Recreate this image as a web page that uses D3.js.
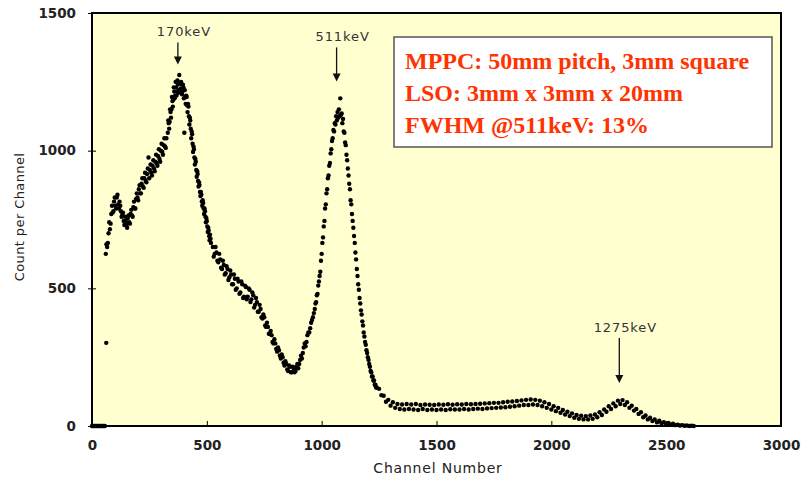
<!DOCTYPE html>
<html>
<head>
<meta charset="utf-8">
<script src="https://cdn.jsdelivr.net/npm/d3@7"></script>
<style>
body { margin: 0; background: #fff; }
</style>
</head>
<body>
<svg id="chart" width="801" height="480"></svg>
<script>
// spectrum, in pieces with their own channel step
var seg0Start = 0, seg0Step = 4,
seg0Counts = [0, 0, 0, 0, 0, 0, 0, 0, 0, 0, 0, 0, 0, 0, 0];

var segAStart = 60, segAStep = 6,
segACounts = [625, 650, 700, 715, 770, 775, 815, 800, 830, 805, 815, 780, 770, 745, 760,
    730, 755, 740, 770, 765, 795, 790, 825, 830, 860, 845, 880, 870, 900, 890,
    915, 975, 930, 920, 945, 935, 960, 955, 980, 970, 1000, 995, 1020, 1015, 1045];

var segA2Start = 63, segA2Step = 6,
segA2Counts = [660, 665, 740, 735, 800, 780, 830, 790, 840, 790, 800, 760, 775, 730, 745,
    720, 765, 735, 785, 760, 815, 790, 845, 820, 875, 845, 900, 865, 920, 885, 935,
    900, 950, 910, 965, 925, 985, 945, 1005, 960, 1025, 985, 1045, 1010];

var segBStart = 330, segBStep = 4,
segBCounts = [1065, 1100, 1105, 1140, 1150, 1180, 1185, 1215, 1200, 1230, 1215, 1240,
    1220, 1245, 1225, 1240, 1215, 1230, 1065, 1195, 1200, 1165, 1170, 1125, 1120, 1080,
    1070, 1025, 1015, 975, 970, 930, 925, 890, 885, 850, 850, 815, 820, 790, 790, 760,
    755, 725, 720, 690, 695, 665];

var segB2Start = 332, segB2Step = 4,
segB2Counts = [1110, 1080, 1150, 1120, 1195, 1160, 1230, 1190, 1250, 1200, 1255, 1210,
    1275, 1215, 1250, 1205, 1240, 1190, 1220, 1170, 1195, 1140, 1160, 1095, 1110, 1045,
    1060, 995, 1005, 950, 960, 905, 915, 870, 875, 835, 840, 800, 810, 770, 780, 740,
    745, 705, 710, 675, 680];

var segCStart = 526, segCStep = 8,
segCCounts = [650, 625, 630, 595, 605, 570, 585, 555, 570, 540, 550, 515, 535, 500, 525,
    485, 515, 470, 505, 470, 495, 460, 475, 440, 450, 415, 425, 390, 395, 360, 360,
    335, 330, 300, 300, 270, 275, 245, 250, 220, 225, 200, 215, 195, 210, 200, 225,
    225, 255, 265, 300, 305, 340, 355, 385, 410];

var segC2Start = 530, segC2Step = 8,
segC2Counts = [615, 650, 600, 625, 575, 600, 550, 580, 530, 565, 515, 550, 495, 535, 480,
    525, 465, 510, 460, 500, 450, 485, 430, 465, 415, 440, 395, 405, 365, 375, 335,
    345, 305, 315, 280, 285, 255, 260, 230, 235, 205, 220, 195, 215, 195, 215, 210,
    240, 245, 285, 290, 330, 340, 375, 395];

var segDStart = 970, segDStep = 3,
segDCounts = [425, 445, 450, 475, 480, 510, 525, 545, 560, 600, 625, 665, 685, 725, 745,
    790, 805, 845, 860, 900, 910, 945, 955, 990, 1005, 1035, 1045, 1075, 1070, 1100,
    1095, 1125, 1110, 1140, 1120, 1150, 1125, 1190, 1130, 1135, 1100, 1115, 1070, 1065,
    1030, 1020, 985, 965, 935, 910, 880, 860, 820, 805, 770, 745, 720, 690, 665, 630,
    605, 570, 545, 515, 495, 465, 445, 420, 405, 380, 365, 340, 325, 305, 295, 275,
    265, 250, 240, 225, 215, 200, 195, 180, 180, 165, 165, 150, 150, 140, 140];

var segEStart = 1250, segEStep = 10,
segECounts = [135, 112, 110, 88, 95, 74, 86, 66, 80, 62, 78, 60, 80, 62, 78, 60, 80, 58,
    76, 62, 78, 58, 77, 60, 76, 58, 78, 60, 77, 58, 79, 61, 77, 60, 79, 60, 78, 62, 80,
    60, 79, 62, 80, 63, 81, 62, 82, 64, 83, 65, 84, 66, 84, 67, 86, 68, 88, 70, 89, 72,
    91, 74, 93, 76, 95, 76, 96, 78, 95, 76, 92, 72, 86, 66, 80, 60, 72, 54, 66, 48, 58,
    42, 52, 36, 46, 30, 40, 26, 37, 24, 36, 24, 38, 26, 42, 32, 50, 40, 60, 52, 72, 62,
    82, 72, 92, 80, 94, 76, 86, 66, 74, 56, 62, 44, 50, 32, 38, 24, 30, 18, 24, 13, 19,
    10, 14, 7, 11, 5, 8, 3, 5, 2, 3, 1, 2, 0, 1, 0];

var strayChannels = [62],
strayCounts = [302];

var xTicks = [0, 500, 1000, 1500, 2000, 2500, 3000],
yTicks = [0, 500, 1000, 1500];

var peakLabels = ["170keV", "511keV", "1275keV"],
peakChannels = [374, 1065, 2296],
arrowFrom = [1393, 1375, 320],
arrowTo = [1313, 1251, 156];

var noteLines = ["MPPC: 50mm pitch, 3mm square", "LSO: 3mm x 3mm x 20mm", "FWHM @511keV: 13%"];

var svg = d3.select("#chart"),
WIDTH = 801,
HEIGHT = 480,
MARGINS = {
    top: 13,
    right: 20,
    bottom: 54,
    left: 92
};

var xScale = d3.scaleLinear()
    .range([MARGINS.left, WIDTH - MARGINS.right])
    .domain([0, 3000]);

var yScale = d3.scaleLinear()
    .range([HEIGHT - MARGINS.bottom, MARGINS.top])
    .domain([0, 1500]);

// flatten the pieces into points
var points = [];
function addSeg(start, step, counts) {
    counts.forEach(function (c, i) {
        points.push({ ch: start + i * step, count: c });
    });
}
addSeg(seg0Start, seg0Step, seg0Counts);
addSeg(segAStart, segAStep, segACounts);
addSeg(segA2Start, segA2Step, segA2Counts);
addSeg(segBStart, segBStep, segBCounts);
addSeg(segB2Start, segB2Step, segB2Counts);
addSeg(segCStart, segCStep, segCCounts);
addSeg(segC2Start, segC2Step, segC2Counts);
addSeg(segDStart, segDStep, segDCounts);
addSeg(segEStart, segEStep, segECounts);
strayChannels.forEach(function (ch, i) {
    points.push({ ch: ch, count: strayCounts[i] });
});

// plot background
svg.append("rect")
    .attr("x", xScale(0))
    .attr("y", yScale(1500))
    .attr("width", xScale(3000) - xScale(0))
    .attr("height", yScale(0) - yScale(1500))
    .attr("fill", "#ffffd0");

svg.append("g")
    .selectAll("circle")
    .data(points)
    .enter().append("circle")
    .attr("cx", function (d) { return xScale(d.ch); })
    .attr("cy", function (d) { return yScale(d.count); })
    .attr("r", 2.2)
    .attr("fill", "#000");

// frame
svg.append("rect")
    .attr("x", xScale(0))
    .attr("y", yScale(1500))
    .attr("width", xScale(3000) - xScale(0))
    .attr("height", yScale(0) - yScale(1500))
    .attr("fill", "none")
    .attr("stroke", "#000")
    .attr("stroke-width", 2);

var xAxis = d3.axisBottom(xScale)
    .tickValues(xTicks)
    .tickFormat(d3.format("d"))
    .tickSize(-5)
    .tickPadding(14);

var gx = svg.append("g")
    .attr("transform", "translate(0," + yScale(0) + ")")
    .call(xAxis);
gx.select(".domain").remove();

var yAxis = d3.axisLeft(yScale)
    .tickValues(yTicks)
    .tickFormat(d3.format("d"))
    .tickSize(4)
    .tickPadding(12);

var gy = svg.append("g")
    .attr("transform", "translate(" + xScale(0) + ",0)")
    .call(yAxis);
gy.select(".domain").remove();
gy.selectAll(".tick line").attr("x2", 4).attr("x1", -4);

svg.selectAll(".tick text")
    .style("font-family", "DejaVu Sans, sans-serif")
    .style("font-size", "13.5px")
    .style("font-weight", "bold")
    .attr("fill", "#222");
svg.selectAll(".tick line").attr("stroke", "#000").attr("stroke-width", 1);

svg.append("text")
    .attr("x", 438)
    .attr("y", 473)
    .style("text-anchor", "middle")
    .style("font-family", "DejaVu Sans, sans-serif")
    .style("font-size", "14px")
    .style("letter-spacing", "0.8px")
    .attr("fill", "#222")
    .text("Channel Number");

svg.append("text")
    .attr("transform", "rotate(-90)")
    .attr("x", -217)
    .attr("y", 24)
    .style("text-anchor", "middle")
    .style("font-family", "DejaVu Sans, sans-serif")
    .style("font-size", "13px")
    .style("letter-spacing", "0.4px")
    .attr("fill", "#222")
    .text("Count per Channel");

// peak annotations
peakLabels.forEach(function (label, i) {
    var x = xScale(peakChannels[i]),
        y1 = yScale(arrowFrom[i]),
        y2 = yScale(arrowTo[i]);
    svg.append("line")
        .attr("x1", x).attr("x2", x)
        .attr("y1", y1).attr("y2", y2 - 7)
        .attr("stroke", "#111")
        .attr("stroke-width", 1.3);
    svg.append("path")
        .attr("d", "M" + (x - 4) + "," + (y2 - 8) + "L" + (x + 4) + "," + (y2 - 8) + "L" + x + "," + y2 + "Z")
        .attr("fill", "#111");
    svg.append("text")
        .attr("x", x + 6)
        .attr("y", y1 - 6)
        .style("text-anchor", "middle")
        .style("font-family", "DejaVu Sans, sans-serif")
        .style("font-size", "13px")
        .style("letter-spacing", "0.9px")
        .attr("fill", "#333")
        .text(label);
});

// note box
svg.append("rect")
    .attr("x", 394)
    .attr("y", 37)
    .attr("width", 378)
    .attr("height", 110)
    .attr("fill", "#fff")
    .attr("stroke", "#555")
    .attr("stroke-width", 1.5);

svg.append("g")
    .selectAll("text")
    .data(noteLines)
    .enter().append("text")
    .attr("x", 405)
    .attr("y", function (d, i) { return 69 + i * 32; })
    .style("font-family", "Liberation Serif, Times New Roman, serif")
    .style("font-size", "24px")
    .style("font-weight", "bold")
    .attr("fill", "#ff3300")
    .text(function (d) { return d; });
</script>
</body>
</html>
